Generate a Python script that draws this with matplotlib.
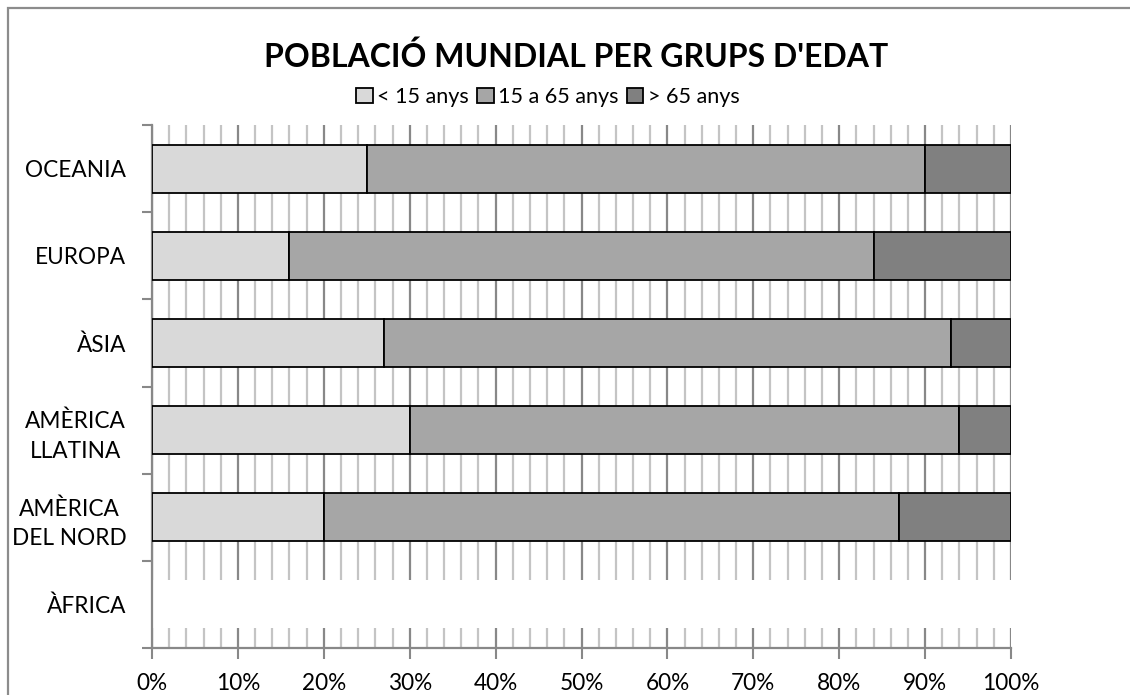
import numpy as np
import matplotlib
matplotlib.use("Agg")
import matplotlib.pyplot as plt
from matplotlib.patches import Rectangle

plt.rcParams["font.family"] = ["Lato", "DejaVu Sans"]

# ─── Data ─────────────────────────────────────────────────────────────────────
regions = ["ÀFRICA", "AMÈRICA\nDEL NORD", "AMÈRICA\nLLATINA", "ÀSIA", "EUROPA", "OCEANIA"]
under_15 = [0, 20, 30, 27, 16, 25]
from_15_to_65 = [0, 67, 64, 66, 68, 65]
over_65 = [0, 13, 6, 7, 16, 10]
series_labels = ["< 15 anys", "15 a 65 anys", "> 65 anys"]
series_colors = ["#d9d9d9", "#a6a6a6", "#808080"]
x_ticks = [0, 10, 20, 30, 40, 50, 60, 70, 80, 90, 100]

# ─── Figure ───────────────────────────────────────────────────────────────────
fig = plt.figure(figsize=(11.3, 6.95), dpi=100)
ax = fig.add_axes([152 / 1130, 1 - 648 / 695, (1011 - 152) / 1130, (648 - 125) / 695])

# outer chart frame (runs off the right/bottom of the picture)
fig.patches.append(Rectangle((8 / 1130, -0.05), 1.1, 1 - 8 / 695 + 0.05,
                             transform=fig.transFigure, fill=False,
                             edgecolor="#8c8c8c", lw=1.6))

y = np.arange(len(regions))
h = 0.55
left = np.zeros(len(regions))
for vals, lab, col in zip([under_15, from_15_to_65, over_65], series_labels, series_colors):
    vals = np.array(vals, dtype=float)
    ax.barh(y[vals > 0], vals[vals > 0], left=left[vals > 0], height=h,
            color=col, edgecolor="black", lw=1.3, label=lab, zorder=3)
    left += vals

# Àfrica row has no data: blank band hiding the grid
blank = [v == 0 for v in left]
ax.barh(y[blank], [100] * sum(blank), height=h, color="white", lw=0, zorder=2)

ax.set_xlim(0, 100)
ax.set_ylim(-0.5, len(regions) - 0.5)

ax.set_xticks(x_ticks)
ax.set_xticklabels([f"{t}%" for t in x_ticks])
ax.set_xticks(np.arange(0, 101, 2), minor=True)
ax.xaxis.grid(True, which="minor", color="#c4c4c4", lw=1.6, zorder=0)
ax.xaxis.grid(True, which="major", color="#888888", lw=1.6, zorder=1)
ax.tick_params(axis="x", which="major", length=8, width=1.5, color="#888888",
               labelsize=16.3, pad=10)
ax.tick_params(axis="x", which="minor", length=0)

ax.set_yticks(y)
ax.set_yticklabels(regions, multialignment="center", linespacing=1.5)
ax.set_yticks(np.arange(-0.5, len(regions), 1), minor=True)
ax.tick_params(axis="y", which="major", length=0, labelsize=16.3, pad=18.5)
ax.tick_params(axis="y", which="minor", length=7, width=1.5, color="#888888")

for s in ["top", "right"]:
    ax.spines[s].set_visible(False)
for s in ["left", "bottom"]:
    ax.spines[s].set_color("#888888")
    ax.spines[s].set_linewidth(1.6)
ax.set_axisbelow(True)

fig.text(576 / 1130, 1 - 57 / 695, "POBLACIÓ MUNDIAL PER GRUPS D'EDAT",
         ha="center", va="center", fontsize=23, fontweight="bold")
ax.legend(loc="center", bbox_to_anchor=(548 / 1130, 1 - 97 / 695), bbox_transform=fig.transFigure,
          ncol=3, frameon=False, fontsize=15.6, handlelength=0.75, handleheight=0.75,
          handletextpad=0.2, columnspacing=0.4, borderpad=0)

fig.savefig("out.png", dpi=100)
